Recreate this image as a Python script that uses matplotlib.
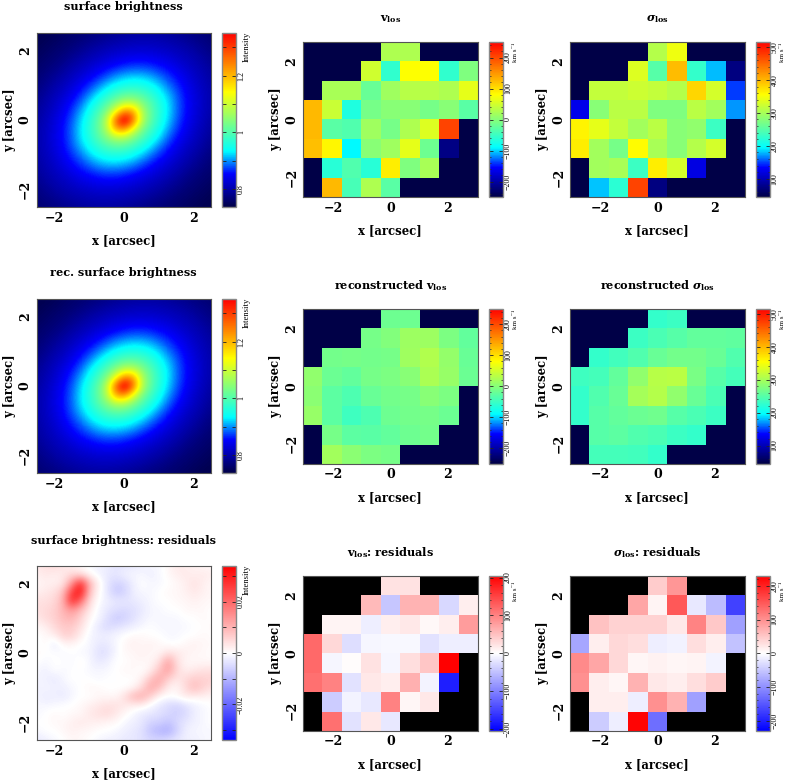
import numpy as np
import matplotlib
matplotlib.use("Agg")
import matplotlib.pyplot as plt
from matplotlib.colors import LinearSegmentedColormap
from matplotlib.ticker import FixedLocator

plt.rcParams['mathtext.fontset'] = 'dejavuserif'
plt.rcParams['font.family'] = 'DejaVu Serif'

N = np.nan
# estimated surface brightness, read on a coarse grid (rows y=+2.5..-2.5, columns x=-2.5..+2.5)
sb_obs = [
[.742,.744,.747,.754,.759,.763,.768,.773,.779,.784,.789,.792,.794,.794,.792,.789,.784,.779,.773,.768,.763],
[.744,.748,.755,.76,.765,.772,.78,.787,.795,.80,.805,.808,.809,.809,.807,.803,.798,.792,.783,.776,.768],
[.748,.756,.761,.767,.775,.784,.795,.803,.81,.816,.82,.825,.826,.825,.82,.816,.81,.803,.795,.784,.775],
[.755,.761,.767,.776,.788,.799,.809,.817,.828,.838,.845,.85,.85,.848,.842,.834,.822,.813,.804,.794,.782],
[.76,.767,.776,.788,.801,.812,.824,.84,.852,.862,.872,.877,.877,.872,.862,.852,.84,.824,.812,.801,.789],
[.765,.775,.787,.80,.813,.828,.846,.862,.88,.90,.912,.919,.917,.907,.889,.871,.854,.837,.819,.807,.794],
[.771,.783,.798,.811,.826,.847,.867,.891,.919,.939,.952,.957,.952,.94,.919,.891,.867,.847,.826,.811,.798],
[.778,.793,.807,.82,.843,.865,.893,.928,.955,.983,1.003,1.007,.995,.97,.942,.912,.88,.853,.832,.814,.80],
[.785,.80,.815,.835,.857,.885,.925,.958,.998,1.04,1.08,1.08,1.04,1.0,.958,.925,.885,.857,.835,.815,.80],
[.79,.806,.82,.845,.87,.906,.945,.987,1.04,1.13,1.24,1.22,1.08,1.012,.965,.926,.886,.856,.833,.813,.80],
[.795,.81,.83,.852,.88,.92,.96,1.01,1.085,1.27,1.40,1.27,1.085,1.01,.96,.92,.88,.852,.83,.81,.795],
[.80,.813,.833,.856,.886,.926,.965,1.012,1.08,1.22,1.24,1.13,1.04,.987,.945,.906,.87,.845,.82,.806,.79],
[.80,.815,.835,.857,.885,.925,.958,1.0,1.04,1.08,1.08,1.04,.998,.958,.925,.885,.857,.835,.815,.80,.785],
[.80,.814,.832,.853,.88,.912,.942,.97,.995,1.007,1.003,.983,.955,.928,.893,.865,.843,.82,.807,.793,.778],
[.798,.811,.826,.847,.867,.891,.919,.94,.952,.957,.952,.939,.919,.891,.867,.847,.826,.811,.798,.783,.771],
[.794,.807,.819,.837,.854,.871,.889,.907,.917,.919,.912,.90,.88,.862,.846,.828,.813,.80,.787,.775,.765],
[.789,.801,.812,.824,.84,.852,.862,.872,.877,.877,.872,.862,.852,.84,.824,.812,.801,.788,.776,.767,.76],
[.782,.794,.804,.813,.822,.834,.842,.848,.85,.85,.845,.838,.828,.817,.809,.799,.788,.776,.767,.761,.755],
[.775,.784,.795,.803,.81,.816,.82,.825,.826,.825,.82,.816,.81,.803,.795,.784,.775,.767,.761,.756,.748],
[.768,.776,.783,.792,.798,.803,.807,.809,.809,.808,.805,.80,.795,.787,.78,.772,.765,.76,.755,.748,.744],
[.763,.768,.773,.779,.784,.789,.792,.794,.794,.792,.789,.784,.779,.773,.768,.763,.759,.754,.747,.744,.742],
]
sb_rec = sb_obs

# estimated residuals in units of 0.001
sb_res_milli = [
[3,4,5,3,2,1,-1,-2,-2,-4,-3,-3,-2,-1,-1,1,3,2,2,1,1],
[2,3,2,3,5,4,1,-1,-3,-3,-2,-1,-1,-2,-1,1,2,3,2,3,2],
[1,2,2,3,14,30,10,2,-3,-6,-5,-2,0,-1,-1,0,1,2,4,2,1],
[2,3,4,8,26,33,8,1,-3,-7,-6,-2,-1,-1,0,1,1,2,3,2,1],
[4,4,5,10,30,20,5,0,-2,-3,-3,-3,-2,-1,0,0,1,1,2,1,1],
[4,5,6,10,14,9,3,-1,-3,-4,-5,-4,-3,-1,-1,0,0,1,1,1,0],
[3,5,6,9,10,6,1,-1,-4,-7,-6,-4,-2,-1,-1,-1,-1,0,0,1,0],
[1,2,5,7,7,4,0,-3,-5,-4,-3,-2,-1,0,-1,-1,-1,-1,0,0,1],
[0,1,2,6,6,2,-1,-2,-2,-1,0,1,1,0,0,-1,-1,0,0,1,0],
[-1,1,-3,1,1,0,-1,-3,-3,-1,1,2,1,2,1,0,0,1,2,1,1],
[1,0,0,-1,0,-1,-1,-4,-4,-1,1,1,2,1,1,4,3,2,1,1,0],
[0,-1,0,0,-1,1,-1,-3,-2,0,0,1,1,1,4,13,4,1,1,1,1],
[-1,-2,0,-1,0,0,-1,-1,-1,0,1,1,0,2,8,13,5,2,3,4,4],
[-1,-2,-3,-1,0,0,0,-1,0,0,0,0,2,8,12,6,3,5,7,6,6],
[-2,-1,-2,-2,-1,0,1,1,0,0,0,1,5,12,8,2,1,5,9,6,4],
[-1,-3,-2,-3,-1,0,0,1,1,1,4,10,11,6,1,0,1,3,2,2,1],
[-1,-1,-1,0,0,1,2,3,4,4,3,2,2,-1,-3,-5,-6,-4,-2,-1,0],
[-1,0,1,0,1,1,3,4,5,3,1,-1,-3,-3,-4,-5,-6,-5,-2,-1,0],
[0,0,1,1,2,3,2,2,1,1,-1,-2,-3,-6,-6,-8,-5,-3,-2,-1,0],
[-1,0,0,1,2,1,1,0,0,-1,-2,-3,-4,-8,-10,-11,-6,-2,-1,-1,-1],
[-3,-2,-1,0,1,1,0,-1,-2,-2,-3,-3,-4,-5,-5,-4,-3,-2,-2,-1,-1],
]

# binned kinematics: 8 rows (top to bottom) by 9 columns
v_obs = [
[N,N,N,N,27,27,N,N,N],
[N,N,N,48,-58,80,80,-58,-5],
[N,22,22,-21,17,32,32,27,64],
[125,43,-69,-10,0,0,-10,0,-30],
[125,-30,-37,17,-10,27,58,204,N],
[122,85,-90,0,17,64,-16,-218,N],
[N,-63,-37,-63,90,-5,22,N,N],
[N,125,-42,27,-30,N,N,N,N],
]
sig_obs = [
[N,N,N,N,308,345,N,N,N],
[N,N,N,334,249,396,228,180,73],
[N,318,318,324,318,308,380,329,148],
[125,281,313,313,276,276,313,297,170],
[361,340,318,297,313,281,287,233,N],
[366,297,270,356,302,281,308,329,N],
[N,297,302,233,366,329,122,N,N],
[N,181,223,472,73,N,N,N,N],
]
v_rec = [
[N,N,N,N,-16,-16,N,N,N],
[N,N,N,-10,-3,14,14,-7,-24],
[N,-12,-10,-12,-10,16,29,8,-21],
[6,-19,-24,-10,-7,0,25,11,-18],
[3,-28,-39,-21,-13,-10,0,-7,N],
[11,-28,-48,-39,-16,-12,-10,-19,N],
[N,-10,-28,-30,-24,-16,-12,N,N],
[N,18,3,-7,-10,N,N,N,N],
]
sig_rec = [
[N,N,N,N,228,234,N,N,N],
[N,N,N,234,242,250,257,257,255],
[N,228,236,246,260,268,268,260,246],
[235,239,257,287,310,313,271,250,239],
[228,246,260,300,308,287,260,242,N],
[228,250,257,263,266,250,242,234,N],
[N,250,253,246,242,234,228,N,N],
[N,239,239,236,228,N,N,N,N],
]
v_res = [
[N,N,N,N,23,23,N,N,N],
[N,N,N,55,-45,60,60,-32,14],
[N,9,9,-14,14,18,5,14,80],
[120,32,-27,-7,-5,-6,-23,-14,-14],
[120,-7,3,23,-7,27,45,205,N],
[115,100,-23,18,14,64,-9,-180,N],
[N,-41,-9,-18,100,7,18,N,N],
[N,115,-23,18,-18,N,N,N,N],
]
sig_res = [
[N,N,N,N,45,95,N,N,N],
[N,N,N,80,10,150,-20,-60,-170],
[N,55,40,40,40,20,110,50,-85],
[-80,15,35,30,-15,-12,30,15,-55],
[105,80,35,8,12,8,10,-10,N],
[100,15,8,70,20,15,30,45,N],
[N,15,15,-15,100,70,-85,N,N],
[N,-45,-15,225,-130,N,N,N,N],
]

titles = [
    ["surface brightness", r"v$_{\mathbf{los}}$", r"$\boldsymbol{\sigma}_{\mathbf{los}}$"],
    ["rec. surface brightness", r"reconstructed v$_{\mathbf{los}}$", r"reconstructed $\boldsymbol{\sigma}_{\mathbf{los}}$"],
    ["surface brightness: residuals", r"v$_{\mathbf{los}}$: residuals", r"$\boldsymbol{\sigma}_{\mathbf{los}}$: residuals"],
]

W, H = 785, 782
jet = LinearSegmentedColormap.from_list("idl_jet", [
    (0.0, (0, 0, 0.28)), (0.19, (0, 0, 1)), (0.32, (0, 1, 1)),
    (0.66, (1, 1, 0)), (1.0, (1, 0, 0))], N=256)
jet_k = jet.copy(); jet_k.set_bad((0, 0, 0.28))
bwr = plt.get_cmap('bwr').copy(); bwr.set_bad('black')

fig = plt.figure(figsize=(W/100, H/100), dpi=100, facecolor='white')

def axpx(x0, y0, x1, y1):
    return fig.add_axes([x0/W, 1-y1/H, (x1-x0)/W, (y1-y0)/H])

COLS = [(36.5, 211, 222, 236), (303, 477.7, 489, 503), (570, 744.7, 755.7, 769.7)]
TOPS_L = [33, 299, 566]
TOPS_R = [42, 308.7, 575.7]
FS = 8.4

def panel(r, c, data, cmap, vmin, vmax, major, minor, labels, cblabel):
    x0, x1, cx0, cx1 = COLS[c]
    top = (TOPS_L if c == 0 else TOPS_R)[r]
    h = 174 if c == 0 else 155
    ax = axpx(x0, top, x1, top+h)
    arr = np.array(data, dtype=float)
    if c == 0:
        im = ax.imshow(arr, cmap=cmap, vmin=vmin, vmax=vmax, origin='upper',
                       extent=(-2.625, 2.625, -2.625, 2.625), aspect='auto',
                       interpolation='bicubic')
        ax.set_xlim(-2.5, 2.5); ax.set_ylim(-2.5, 2.5)
    else:
        im = ax.imshow(np.ma.masked_invalid(arr), cmap=cmap, vmin=vmin, vmax=vmax, origin='upper',
                       extent=(-3.04, 3.04, -2.7, 2.7), aspect='auto',
                       interpolation='nearest')
    ax.set_xticks([-2, 0, 2]); ax.set_yticks([-2, 0, 2])
    ax.set_xticklabels(['\u22122', '0', '2'], fontweight='bold', fontsize=FS+0.6)
    ax.set_yticklabels(['\u22122', '0', '2'], fontweight='bold', fontsize=FS+0.6,
                       rotation=90, va='center')
    ax.tick_params(length=0, pad=3.4)
    for s in ax.spines.values():
        s.set_color('#555555'); s.set_linewidth(0.8)
    cy = top + h + 33.5
    fig.text((x0+x1)/2/W, 1-cy/H, "x [arcsec]", ha='center', va='center',
             fontweight='bold', fontsize=FS)
    fig.text((x0-27)/W, 1-(top+h/2)/H, "y [arcsec]", ha='center', va='center',
             rotation=90, fontweight='bold', fontsize=FS)
    fig.text((x0+x1)/2/W, 1-(top-(26 if c == 0 else 23))/H, titles[r][c],
             ha='center', va='center', fontweight='bold', fontsize=FS-0.3)

    cax = axpx(cx0, top, cx1, top+h)
    cb = fig.colorbar(im, cax=cax)
    cb.set_ticks(major)
    cb.ax.yaxis.set_minor_locator(FixedLocator(minor))
    cb.set_ticklabels(labels)
    cb.ax.tick_params(which='major', direction='in', length=3, width=0.6, left=True, right=True,
                      color='#222222', pad=0.6, labelsize=5.8)
    cb.ax.tick_params(which='minor', direction='in', length=1.5, width=0.5, left=True, right=True,
                      color='#222222')
    for t in cb.ax.get_yticklabels():
        t.set_rotation(90); t.set_va('center'); t.set_family('Liberation Serif')
    cb.outline.set_edgecolor('#888888'); cb.outline.set_linewidth(1.0)
    offs = 5 if (r == 2 and c > 0) else 0
    size = 6.2 if cblabel == "Intensity" else 5.0
    fig.text((cx1+15)/W, 1-(top+offs-(1 if c == 0 else -1))/H, cblabel, rotation=90, ha='right', va='top',
             fontsize=size, family=['Liberation Serif', 'DejaVu Serif'])

KMS = "km s\u207b\u00b9"
vt = [-200, -100, 0, 100, 200]
vl = ['\u2212200', '\u2212100', '0', '100', '200']
vminor = list(range(-240, 241, 20))
st = [100, 200, 300, 400, 500]
sl = ['100', '200', '300', '400', '500']
sminor = list(range(60, 511, 20))
it = [0.8, 0.9, 1.0, 1.1, 1.2, 1.3]
il = ['0.8', '', '1', '', '1.2', '']
rt = [-0.03, -0.02, -0.01, 0, 0.01, 0.02, 0.03]
rl = ['', '\u22120.02', '', '0', '', '0.02', '']

for r, (sb, vd, sd) in enumerate([(sb_obs, v_obs, sig_obs), (sb_rec, v_rec, sig_rec)]):
    panel(r, 0, sb, jet, 0.736, 1.351, it, [], il, "Intensity")
    panel(r, 1, vd, jet_k, -250, 250, vt, vminor, vl, KMS)
    panel(r, 2, sd, jet_k, 45, 515, st, sminor, sl, KMS)

panel(2, 0, np.array(sb_res_milli)/1000, bwr, -0.0338, 0.0338, rt, [], rl, "Intensity")
panel(2, 1, v_res, bwr, -205, 205, vt, list(range(-200, 201, 20)), vl, KMS)
panel(2, 2, sig_res, bwr, -230, 230, vt, list(range(-220, 221, 20)), vl, KMS)

fig.savefig("out.png", dpi=100, facecolor='white')
